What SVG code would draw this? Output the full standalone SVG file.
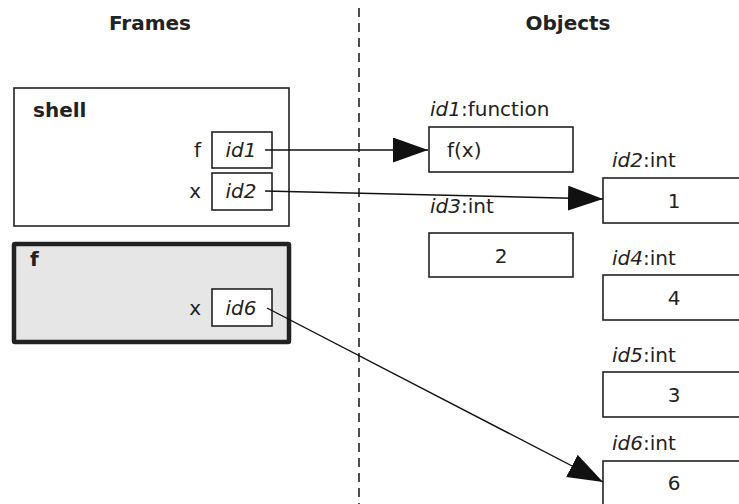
<svg xmlns="http://www.w3.org/2000/svg" width="739" height="504" viewBox="0 0 739 504">
<style>
text{font-family:"DejaVu Sans",sans-serif;font-size:20px;fill:#222}
.b{font-weight:bold}
.m{text-anchor:middle}
.e{text-anchor:end}
.box{fill:#fff;stroke:#222;stroke-width:1.6}
.con{stroke:#111;stroke-width:1.4;fill:none}
</style>
<defs>
<marker id="ah" markerUnits="userSpaceOnUse" markerWidth="36" markerHeight="26" refX="35" refY="12.5" orient="auto">
<path d="M0,0 L35,12.5 L0,25 z" fill="#111"/>
</marker>
</defs>
<rect width="739" height="504" fill="#fff"/>
<line x1="359" y1="8" x2="359" y2="504" stroke="#222" stroke-width="1.6" stroke-dasharray="9,6"/>
<text class="b m" x="150" y="30">Frames</text>
<text class="b m" x="568" y="30">Objects</text>
<g id="frame-shell">
<rect x="14" y="88" width="275" height="138" class="box"/>
<text class="b" x="33" y="117">shell</text>
<text class="e" x="201" y="157">f</text>
<rect x="212" y="132" width="60" height="36" class="box"/>
<text class="m" x="241" y="157" font-style="italic">id1</text>
<text class="e" x="201" y="198">x</text>
<rect x="212" y="173" width="60" height="37" class="box"/>
<text class="m" x="241" y="198" font-style="italic">id2</text>
</g>
<g id="frame-f">
<rect x="14" y="244" width="275" height="98" fill="#e6e6e6" stroke="#222" stroke-width="4.5" rx="1"/>
<text class="b" x="30" y="266">f</text>
<text class="e" x="201" y="315">x</text>
<rect x="212" y="289" width="60" height="37" class="box"/>
<text class="m" x="241" y="315" font-style="italic">id6</text>
</g>
<g id="obj-id1">
<text x="430" y="116"><tspan font-style="italic">id1</tspan>:function</text>
<rect x="429" y="127" width="144" height="45" class="box"/>
<text x="447" y="157">f(x)</text>
</g>
<g id="obj-id2">
<text x="612" y="167"><tspan font-style="italic">id2</tspan>:int</text>
<rect x="603" y="178" width="142" height="45" class="box"/>
<text class="m" x="674" y="208">1</text>
</g>
<g id="obj-id3">
<text x="430" y="213"><tspan font-style="italic">id3</tspan>:int</text>
<rect x="429" y="233" width="144" height="44" class="box"/>
<text class="m" x="501" y="263">2</text>
</g>
<g id="obj-id4">
<text x="612" y="265"><tspan font-style="italic">id4</tspan>:int</text>
<rect x="603" y="275" width="142" height="45" class="box"/>
<text class="m" x="674" y="305">4</text>
</g>
<g id="obj-id5">
<text x="612" y="362"><tspan font-style="italic">id5</tspan>:int</text>
<rect x="603" y="372" width="142" height="45" class="box"/>
<text class="m" x="674" y="402">3</text>
</g>
<g id="obj-id6">
<text x="612" y="450"><tspan font-style="italic">id6</tspan>:int</text>
<rect x="603" y="461" width="142" height="50" class="box"/>
<text class="m" x="674" y="490">6</text>
</g>
<g id="connectors">
<line x1="265" y1="150" x2="428" y2="150" class="con" marker-end="url(#ah)"/>
<line x1="265" y1="191" x2="603" y2="199" class="con" marker-end="url(#ah)"/>
<line x1="267" y1="308" x2="603" y2="482" class="con" marker-end="url(#ah)"/>
</g>
</svg>
